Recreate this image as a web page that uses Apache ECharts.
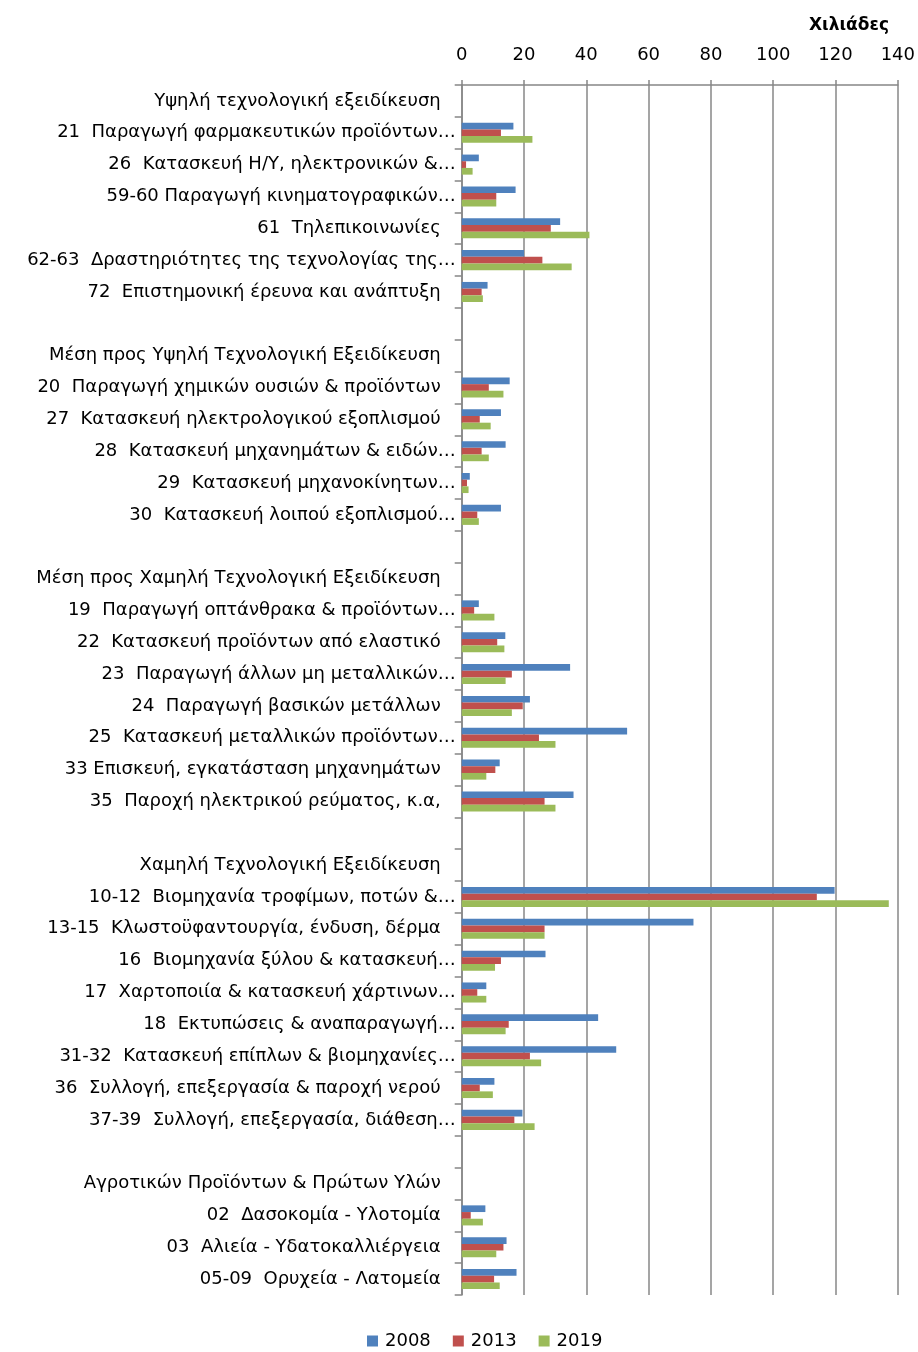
<!DOCTYPE html>
<html>
<head>
<meta charset="utf-8">
<script src="https://cdn.jsdelivr.net/npm/echarts@6/dist/echarts.min.js"></script>
<style>
html,body{margin:0;padding:0;background:#fff;}
#chart{width:918px;height:1352px;}
</style>
</head>
<body>
<div id="chart"></div>
<script>
const categories = [
  'Υψηλή τεχνολογική εξειδίκευση',
  '21  Παραγωγή φαρμακευτικών προϊόντων…',
  '26  Κατασκευή Η/Υ, ηλεκτρονικών &…',
  '59-60 Παραγωγή κινηματογραφικών…',
  '61  Τηλεπικοινωνίες',
  '62-63  Δραστηριότητες της τεχνολογίας της…',
  '72  Επιστημονική έρευνα και ανάπτυξη',
  ' ',
  'Μέση προς Υψηλή Τεχνολογική Εξειδίκευση',
  '20  Παραγωγή χημικών ουσιών & προϊόντων',
  '27  Κατασκευή ηλεκτρολογικού εξοπλισμού',
  '28  Κατασκευή μηχανημάτων & ειδών…',
  '29  Κατασκευή μηχανοκίνητων…',
  '30  Κατασκευή λοιπού εξοπλισμού…',
  '  ',
  'Μέση προς Χαμηλή Τεχνολογική Εξειδίκευση',
  '19  Παραγωγή οπτάνθρακα & προϊόντων…',
  '22  Κατασκευή προϊόντων από ελαστικό',
  '23  Παραγωγή άλλων μη μεταλλικών…',
  '24  Παραγωγή βασικών μετάλλων',
  '25  Κατασκευή μεταλλικών προϊόντων…',
  '33 Επισκευή, εγκατάσταση μηχανημάτων',
  '35  Παροχή ηλεκτρικού ρεύματος, κ.α,',
  '   ',
  'Χαμηλή Τεχνολογική Εξειδίκευση',
  '10-12  Βιομηχανία τροφίμων, ποτών &…',
  '13-15  Κλωστοϋφαντουργία, ένδυση, δέρμα',
  '16  Βιομηχανία ξύλου & κατασκευή…',
  '17  Χαρτοποιία & κατασκευή χάρτινων…',
  '18  Εκτυπώσεις & αναπαραγωγή…',
  '31-32  Κατασκευή επίπλων & βιομηχανίες…',
  '36  Συλλογή, επεξεργασία & παροχή νερού',
  '37-39  Συλλογή, επεξεργασία, διάθεση…',
  '    ',
  'Αγροτικών Προϊόντων & Πρώτων Υλών',
  '02  Δασοκομία - Υλοτομία',
  '03  Αλιεία - Υδατοκαλλιέργεια',
  '05-09  Ορυχεία - Λατομεία'
];
const v2008 = [null,16.6,5.5,17.3,31.6,20.0,8.3, null,null,15.4,12.6,14.1,2.6,12.6, null,null,5.5,14.0,34.8,21.9,53.1,12.2,35.9, null,null,119.7,74.4,26.9,7.9,43.8,49.6,10.5,19.5, null,null,7.6,14.4,17.6];
const v2013 = [null,12.6,1.4,11.1,28.6,25.9,6.4, null,null,8.7,5.8,6.4,1.7,5.0, null,null,4.0,11.4,16.1,19.6,24.8,10.8,26.6, null,null,114.0,26.6,12.6,5.0,15.1,21.9,5.8,16.9, null,null,2.9,13.4,10.4];
const v2019 = [null,22.7,3.5,11.1,41.0,35.3,6.8, null,null,13.4,9.3,8.7,2.2,5.5, null,null,10.5,13.7,14.1,16.1,30.1,7.9,30.1, null,null,137.1,26.6,10.7,7.9,14.1,25.5,10.0,23.4, null,null,6.8,11.1,12.2];
const seriesNames = ['2008','2013','2019'];
const axisMin = 0, axisMax = 140, axisStep = 20;
const axisTitle = 'Χιλιάδες';

const colors = ['#4F81BD','#C0504D','#9BBB59'];
const gridColor = '#878787';
const font = 'DejaVu Sans';

const chart = echarts.init(document.getElementById('chart'), null, {renderer:'canvas'});
const values = [v2008, v2013, v2019];
chart.setOption({
  animation:false,
  color: colors,
  title:{
    text: axisTitle, left: 804, top: 12,
    textStyle:{fontFamily:font, fontSize:17, fontWeight:'bold', color:'#000'}
  },
  legend:{
    top: 1327, left: 362, itemWidth:11, itemHeight:11, itemGap:22,
    icon:'rect',
    textStyle:{fontFamily:font, fontSize:18, color:'#000', padding:[0,0,0,2]},
    data: seriesNames
  },
  grid:{left:461.7, right:19.7, top:85, bottom:57, containLabel:false},
  xAxis:{
    type:'value', position:'top', min:axisMin, max:axisMax, interval:axisStep,
    axisLine:{show:true, lineStyle:{color:gridColor, width:1.5}},
    axisTick:{show:true, length:5, lineStyle:{color:gridColor, width:1.5}},
    splitLine:{show:true, lineStyle:{color:gridColor, width:1.5}},
    axisLabel:{fontFamily:font, fontSize:18, color:'#000', margin:21}
  },
  yAxis:{
    type:'category', inverse:true, data:categories,
    axisLine:{show:true, lineStyle:{color:gridColor, width:1.5}},
    axisTick:{show:true, length:7, alignWithLabel:false, interval:0, lineStyle:{color:gridColor, width:1.5}},
    axisLabel:{
      interval:0, margin:6, color:'#000', fontFamily:font, fontSize:18,
      formatter: function(v){ return v.endsWith('…') ? '{e|'+v+'}' : '{n|'+v+'}'; },
      rich:{
        e:{fontFamily:font, fontSize:18, color:'#000'},
        n:{fontFamily:font, fontSize:18, color:'#000', padding:[0,15,0,0]}
      }
    }
  },
  series: seriesNames.map((n,i)=>({
    name:n, type:'bar', data:values[i],
    barGap:'0%', barCategoryGap:'37%',
    itemStyle:{color:colors[i]}
  }))
});
</script>
</body>
</html>
